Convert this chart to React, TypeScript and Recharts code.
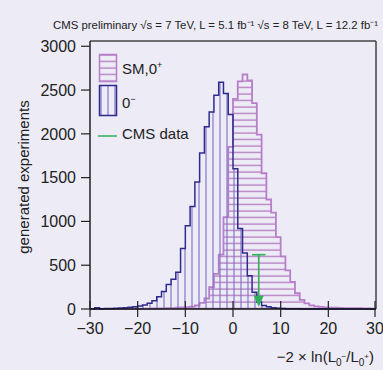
import React from "react";
import { ComposedChart, Area, XAxis, YAxis, ReferenceLine, ReferenceDot } from "recharts";

// bins of width 1 from -30 to 30, value listed per left edge
const binStart = -30;
const smCounts = [
  0, 0, 0, 1, 0, 1, 2, 1, 2, 3,
  3, 4, 5, 6, 7, 8, 9, 11, 14, 18,
  22, 28, 40, 70, 120, 250, 400, 620, 1050, 1850,
  2400, 2600, 2680, 2610, 2350, 1990, 1550, 1250, 1100, 820,
  600, 440, 310, 180, 105, 65, 42, 30, 24, 19,
  16, 14, 12, 11, 10, 9, 10, 8, 6, 4,
];
const psCounts = [
  3, 15, 2, 5, 6, 8, 10, 14, 19, 25,
  34, 45, 65, 95, 140, 200, 280, 340, 420, 690,
  950, 1170, 1450, 1780, 2080, 2250, 2440, 2590, 2460, 2220,
  1600, 920, 640, 380, 190, 80, 40, 25, 15, 9,
  6, 4, 3, 2, 1, 1, 0, 0, 0, 0,
  0, 0, 0, 0, 0, 0, 0, 0, 0, 0,
];
const xTicks = [-30, -20, -10, 0, 10, 20, 30];
const yTicks = [0, 500, 1000, 1500, 2000, 2500, 3000];

// observed value of the test statistic
const obsX = 5.4;
const arrowTop = 620;
const arrowBase = 140;
const arrowTip = 25;
const capHalf = 1.4;

const histData = Array.from({ length: smCounts.length + 1 }, (_, i) => ({
  x: binStart + i,
  sm: smCounts[Math.min(i, smCounts.length - 1)],
  ps: psCounts[Math.min(i, psCounts.length - 1)],
}));

const BG = "#ecebf6";
const SM_LINE = "#b77ec9";
const SM_HATCH = "#9d4ea8";
const PS_LINE = "#2f2b8d";
const PS_HATCH = "#7a6fc6";
const GREEN = "#2eaf58";
const FONT = "'Liberation Sans', Arial, sans-serif";

const fmt = (v: number) => (v < 0 ? "\u2212" + Math.abs(v) : String(v));

const XTick = (props: any) => {
  const { x, y, payload } = props;
  const axisY = y - 14;
  return (
    <g>
      <line x1={x} x2={x} y1={axisY - 8} y2={axisY + 8} stroke="#222" strokeWidth={1.2} />
      <text x={x} y={y} dy="0.71em" textAnchor="middle" fontSize={16} fontFamily={FONT} fill="#222">
        {fmt(payload.value)}
      </text>
    </g>
  );
};

const ArrowHead = (props: any) => {
  const { cx, cy } = props;
  return <polygon points={`${cx},${cy} ${cx - 5},${cy - 11} ${cx + 5},${cy - 11}`} fill={GREEN} />;
};

function Patterns({ suffix }: { suffix: string }) {
  return (
    <defs>
      <pattern id={"hSM" + suffix} patternUnits="userSpaceOnUse" width={8} height={6.5}>
        <line x1={0} x2={8} y1={3} y2={3} stroke={SM_HATCH} strokeWidth={1.1} strokeOpacity={0.85} />
      </pattern>
      <pattern id={"hPS" + suffix} patternUnits="userSpaceOnUse" width={7} height={8}>
        <line x1={3} x2={3} y1={0} y2={8} stroke={PS_HATCH} strokeWidth={1.3} strokeOpacity={0.85} />
      </pattern>
    </defs>
  );
}

export default function App() {
  return (
    <div style={{ position: "absolute", left: 0, top: 0, width: 383, height: 370, background: BG }}>
      <ComposedChart width={383} height={370} data={histData} margin={{ top: 41, right: 7, bottom: 0, left: 0 }}>
        <Patterns suffix="c" />
        <XAxis
          dataKey="x"
          type="number"
          domain={[-30, 30]}
          ticks={xTicks}
          height={61}
          tickSize={8}
          tickMargin={6}
          tickLine={false}
          tick={<XTick />}
          axisLine={{ stroke: "#111", strokeWidth: 1.5 }}
        />
        <YAxis
          type="number"
          domain={[0, 3060]}
          ticks={yTicks}
          width={90}
          tickSize={9}
          tickMargin={5}
          tickLine={{ stroke: "#222", strokeWidth: 1.2 }}
          axisLine={{ stroke: "#222", strokeWidth: 1.5 }}
          tick={{ fontSize: 16, fontFamily: FONT, fill: "#222" }}
        />
        <Area
          type="stepAfter"
          dataKey="sm"
          stroke={SM_LINE}
          strokeWidth={1.8}
          fill="url(#hSMc)"
          fillOpacity={1}
          dot={false}
          activeDot={false}
          isAnimationActive={false}
        />
        <Area
          type="stepAfter"
          dataKey="ps"
          stroke={PS_LINE}
          strokeWidth={1.5}
          fill="url(#hPSc)"
          fillOpacity={1}
          dot={false}
          activeDot={false}
          isAnimationActive={false}
        />
        <ReferenceLine y={3060} stroke="#444" strokeWidth={1.5} />
        <ReferenceLine x={30} stroke="#444" strokeWidth={1.5} />
        <ReferenceLine
          segment={[{ x: obsX, y: arrowTop }, { x: obsX, y: arrowBase }]}
          stroke={GREEN}
          strokeWidth={1.6}
        />
        <ReferenceLine
          segment={[{ x: obsX - capHalf, y: arrowTop }, { x: obsX + capHalf, y: arrowTop }]}
          stroke={GREEN}
          strokeWidth={1.6}
        />
        <ReferenceDot x={obsX} y={arrowTip} r={5} shape={<ArrowHead />} />
      </ComposedChart>
      <svg width={383} height={370} style={{ position: "absolute", left: 0, top: 0, pointerEvents: "none" }}>
        <Patterns suffix="l" />
        <text
          x={53}
          y={29}
          fontSize={11.5}
          fontFamily="'Liberation Sans Narrow', 'Liberation Sans', Arial, sans-serif"
          fill="#222"
          textLength={325}
          lengthAdjust="spacingAndGlyphs"
        >
          CMS preliminary √s = 7 TeV, L = 5.1 fb⁻¹ √s = 8 TeV, L = 12.2 fb⁻¹
        </text>
        <text
          transform="translate(29,177) rotate(-90)"
          textAnchor="middle"
          fontSize={15}
          fontFamily={FONT}
          fill="#222"
        >
          generated experiments
        </text>
        <text x={374} y={362} textAnchor="end" fontSize={15} fontFamily={FONT} fill="#222">
          {"\u22122 \u00d7 ln(L"}
          <tspan dy={4} fontSize={10}>0</tspan>
          <tspan dy={-7} fontSize={8}>{"\u2212"}</tspan>
          <tspan dy={3}>/L</tspan>
          <tspan dy={4} fontSize={10}>0</tspan>
          <tspan dy={-7} fontSize={8}>+</tspan>
          <tspan dy={3}>)</tspan>
        </text>
        <rect x={99.5} y={54.5} width={17} height={27} fill="url(#hSMl)" stroke={SM_LINE} strokeWidth={1.5} />
        <rect x={99.5} y={85.5} width={17} height={30} fill="url(#hPSl)" stroke={PS_LINE} strokeWidth={1.5} />
        <line x1={98} x2={117} y1={136} y2={136} stroke={GREEN} strokeWidth={1.5} />
        <text x={122} y={74} fontSize={15} fontFamily={FONT} fill="#222">
          SM,0<tspan dy={-6} fontSize={9}>+</tspan>
        </text>
        <text x={122} y={108} fontSize={15} fontFamily={FONT} fill="#222">
          0<tspan dy={-6} fontSize={9}>{"\u2212"}</tspan>
        </text>
        <text x={122} y={139} fontSize={15} fontFamily={FONT} fill="#222">
          CMS data
        </text>
      </svg>
    </div>
  );
}
